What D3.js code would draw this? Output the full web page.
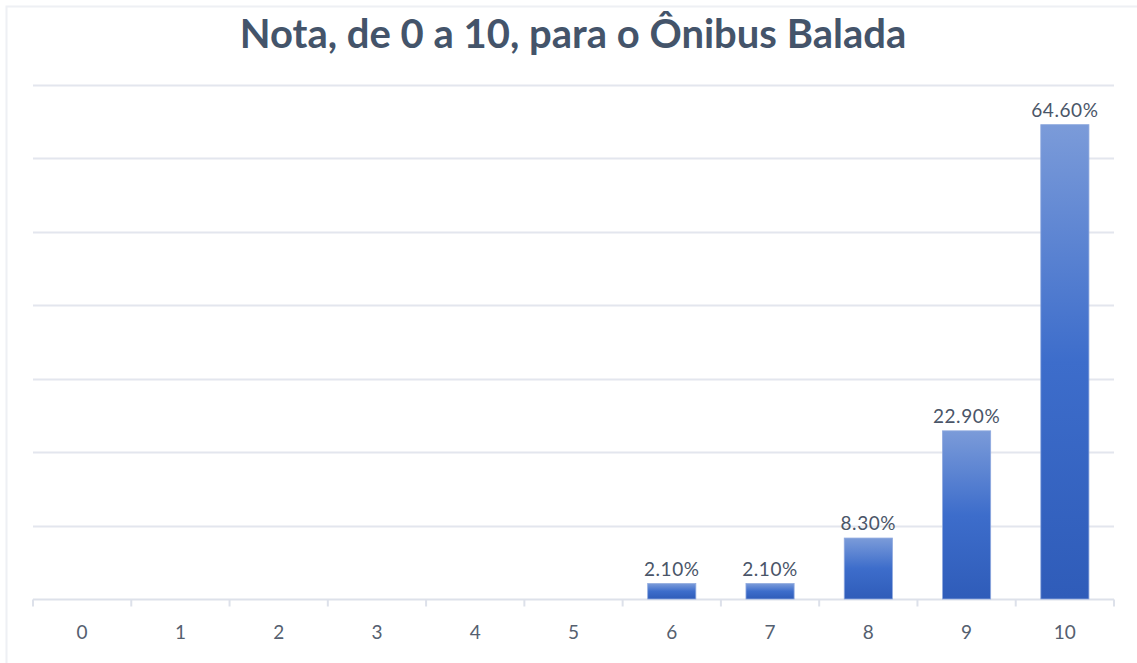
<!DOCTYPE html>
<html lang="pt">
<head>
<meta charset="utf-8">
<style>
  html, body { margin: 0; padding: 0; background: #fff; }
  svg { display: block; }
  text { font-family: Lato, "Open Sans", sans-serif; }
</style>
<script src="https://d3js.org/d3.v7.min.js"></script>
</head>
<body>
<svg width="1137" height="663"></svg>
<script>
  // dados
  var categories = ['0', '1', '2', '3', '4', '5', '6', '7', '8', '9', '10'];
  var values = [0, 0, 0, 0, 0, 0, 2.1, 2.1, 8.3, 22.9, 64.6];
  var yTicks = [0, 10, 20, 30, 40, 50, 60, 70];
  var title = 'Nota, de 0 a 10, para o Ônibus Balada';

  var data = categories.map(function(c, i) { return { cat: c, value: values[i] }; });

  var svg = d3.select('svg');
  var margin = { left: 33, right: 23, top: 85, bottom: 64 };
  var width = 1137, height = 663;

  var x = d3.scaleBand()
    .domain(categories)
    .range([margin.left, width - margin.right])
    .paddingInner(0.51)
    .paddingOuter(0.255);

  var y = d3.scaleLinear()
    .domain([0, 70])
    .range([height - margin.bottom, margin.top]);

  // moldura
  svg.append('path')
    .attr('d', 'M6.5,663V6.5H1137')
    .attr('fill', 'none')
    .attr('stroke', '#eef0f4')
    .attr('stroke-width', 2);

  var grad = svg.append('defs').append('linearGradient')
    .attr('id', 'barGrad')
    .attr('x1', 0).attr('y1', 0).attr('x2', 0).attr('y2', 1);
  grad.append('stop').attr('offset', '0%').attr('stop-color', '#7b9bd9');
  grad.append('stop').attr('offset', '50%').attr('stop-color', '#3d6dcb');
  grad.append('stop').attr('offset', '100%').attr('stop-color', '#2f5cb9');

  // grade
  svg.append('g')
    .selectAll('line')
    .data(yTicks.slice(1))
    .enter().append('line')
    .attr('x1', margin.left).attr('x2', width - margin.right)
    .attr('y1', function(d) { return Math.round(y(d)) + 0.5; })
    .attr('y2', function(d) { return Math.round(y(d)) + 0.5; })
    .attr('stroke', '#e3e6ee')
    .attr('stroke-width', 2);

  // eixo x
  var xAxis = svg.append('g')
    .attr('transform', 'translate(0,' + (y(0) + 0.5) + ')');
  xAxis.append('line')
    .attr('x1', margin.left).attr('x2', width - margin.right)
    .attr('stroke', '#dde1ea').attr('stroke-width', 2);
  var step = x.step();
  xAxis.selectAll('.tick')
    .data(d3.range(categories.length + 1))
    .enter().append('line')
    .attr('x1', function(i) { return margin.left + i * step; })
    .attr('x2', function(i) { return margin.left + i * step; })
    .attr('y1', 0).attr('y2', 7)
    .attr('stroke', '#dde1ea').attr('stroke-width', 2);
  xAxis.selectAll('text')
    .data(categories)
    .enter().append('text')
    .attr('x', function(d) { return x(d) + x.bandwidth() / 2; })
    .attr('y', 39)
    .attr('text-anchor', 'middle')
    .attr('font-size', 19)
    .attr('fill', '#55606f')
    .text(function(d) { return d; });

  var shown = data.filter(function(d) { return d.value > 0; });

  // barras
  svg.append('g')
    .selectAll('rect')
    .data(shown)
    .enter().append('rect')
    .attr('x', function(d) { return x(d.cat); })
    .attr('width', x.bandwidth())
    .attr('y', function(d) { return y(d.value); })
    .attr('height', function(d) { return y(0) - y(d.value); })
    .attr('fill', 'url(#barGrad)')
    .attr('stroke', '#8fa9de')
    .attr('stroke-width', 0.8);

  // rótulos
  svg.append('g')
    .selectAll('text')
    .data(shown)
    .enter().append('text')
    .attr('x', function(d) { return x(d.cat) + x.bandwidth() / 2; })
    .attr('y', function(d) { return y(d.value) - 8; })
    .attr('text-anchor', 'middle')
    .attr('font-size', 19)
    .attr('letter-spacing', 0.6)
    .attr('fill', '#4a5568')
    .text(function(d) { return d.value.toFixed(2) + '%'; });

  // título
  svg.append('text')
    .attr('x', 573)
    .attr('y', 48)
    .attr('text-anchor', 'middle')
    .attr('font-size', 40)
    .attr('font-weight', 'bold')
    .attr('fill', '#44546a')
    .text(title);
</script>
</body>
</html>
